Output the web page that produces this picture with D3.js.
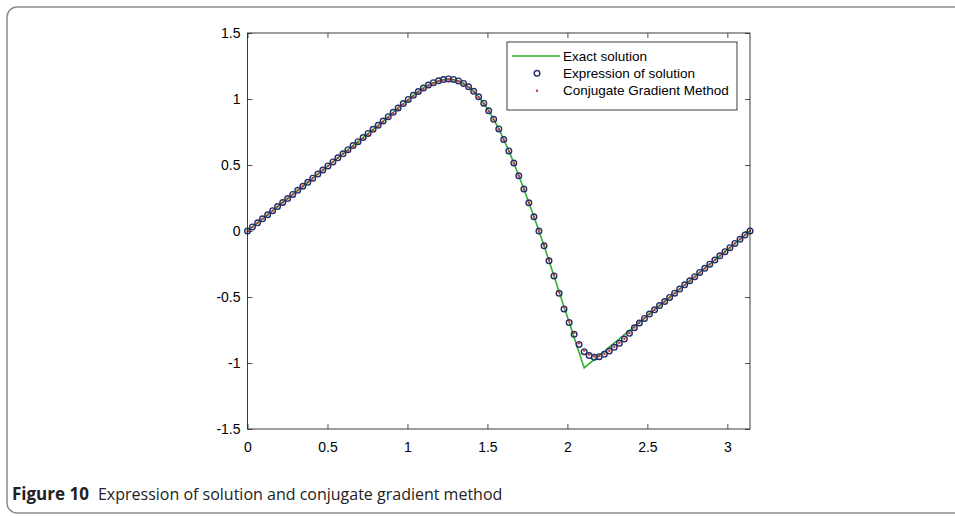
<!DOCTYPE html>
<html>
<head>
<meta charset="utf-8">
<script src="https://cdn.jsdelivr.net/npm/d3@7"></script>
<style>
  html, body { margin: 0; padding: 0; background: #fff; }
  svg { display: block; }
</style>
</head>
<body>
<svg id="chart" width="955" height="516"></svg>
<script>
// ---- data ----
const xValues = [
  0.000,0.031,0.063,0.094,0.126,0.157,0.188,0.220,0.251,0.283,
  0.314,0.346,0.377,0.408,0.440,0.471,0.503,0.534,0.565,0.597,
  0.628,0.660,0.691,0.723,0.754,0.785,0.817,0.848,0.880,0.911,
  0.942,0.974,1.005,1.037,1.068,1.100,1.131,1.162,1.194,1.225,
  1.257,1.288,1.319,1.351,1.382,1.414,1.445,1.477,1.508,1.539,
  1.571,1.602,1.634,1.665,1.696,1.728,1.759,1.791,1.822,1.854,
  1.885,1.916,1.948,1.979,2.011,2.042,2.073,2.105,2.136,2.168,
  2.199,2.231,2.262,2.293,2.325,2.356,2.388,2.419,2.450,2.482,
  2.513,2.545,2.576,2.608,2.639,2.670,2.702,2.733,2.765,2.796,
  2.827,2.859,2.890,2.922,2.953,2.985,3.016,3.047,3.079,3.110,
  3.142
];
const exactValues = [
  0.000,0.031,0.062,0.092,0.123,0.154,0.185,0.216,0.246,0.277,
  0.308,0.339,0.369,0.400,0.431,0.462,0.493,0.523,0.554,0.585,
  0.616,0.647,0.677,0.708,0.739,0.770,0.801,0.833,0.866,0.899,
  0.932,0.965,0.997,1.028,1.057,1.083,1.106,1.124,1.138,1.147,
  1.152,1.148,1.137,1.118,1.092,1.058,1.017,0.968,0.911,0.846,
  0.773,0.693,0.607,0.515,0.418,0.318,0.214,0.108,0.000,-0.112,
  -0.226,-0.340,-0.460,-0.575,-0.690,-0.806,-0.921,-1.037,-1.005,-0.974,
  -0.942,-0.911,-0.880,-0.848,-0.817,-0.785,-0.754,-0.723,-0.691,-0.660,
  -0.628,-0.597,-0.565,-0.534,-0.503,-0.471,-0.440,-0.408,-0.377,-0.346,
  -0.314,-0.283,-0.251,-0.220,-0.188,-0.157,-0.126,-0.094,-0.063,-0.031,
  0.000
];
const expressionValues = [
  0.000,0.031,0.062,0.092,0.123,0.154,0.185,0.216,0.246,0.277,
  0.308,0.339,0.369,0.400,0.431,0.462,0.493,0.523,0.554,0.585,
  0.616,0.647,0.677,0.708,0.739,0.770,0.801,0.833,0.866,0.899,
  0.932,0.965,0.997,1.028,1.057,1.083,1.106,1.124,1.138,1.147,
  1.152,1.148,1.137,1.118,1.092,1.058,1.017,0.968,0.911,0.846,
  0.773,0.693,0.607,0.515,0.418,0.318,0.214,0.108,0.000,-0.112,
  -0.226,-0.340,-0.472,-0.591,-0.694,-0.783,-0.859,-0.914,-0.944,-0.957,
  -0.952,-0.934,-0.909,-0.881,-0.851,-0.818,-0.775,-0.733,-0.697,-0.662,
  -0.629,-0.597,-0.565,-0.534,-0.503,-0.471,-0.440,-0.408,-0.377,-0.346,
  -0.314,-0.283,-0.251,-0.220,-0.188,-0.157,-0.126,-0.094,-0.063,-0.031,
  0.000
];
const cgValues = [
  0.000,0.031,0.062,0.092,0.123,0.154,0.185,0.216,0.246,0.277,
  0.308,0.339,0.369,0.400,0.431,0.462,0.493,0.523,0.554,0.585,
  0.610,0.641,0.671,0.702,0.733,0.764,0.795,0.827,0.860,0.893,
  0.926,0.959,0.991,1.022,1.051,1.078,1.101,1.120,1.134,1.143,
  1.148,1.145,1.134,1.115,1.089,1.055,1.014,0.966,0.909,0.844,
  0.771,0.691,0.605,0.514,0.418,0.318,0.214,0.108,0.002,-0.108,
  -0.220,-0.333,-0.462,-0.576,-0.680,-0.770,-0.850,-0.905,-0.937,-0.950,
  -0.948,-0.932,-0.907,-0.879,-0.849,-0.816,-0.774,-0.732,-0.696,-0.661,
  -0.629,-0.597,-0.565,-0.534,-0.503,-0.471,-0.440,-0.408,-0.377,-0.346,
  -0.314,-0.283,-0.251,-0.220,-0.188,-0.157,-0.126,-0.094,-0.063,-0.031,
  0.000
];
const xTicks = [0, 0.5, 1, 1.5, 2, 2.5, 3];
const yTicks = [-1.5, -1, -0.5, 0, 0.5, 1, 1.5];
const xDomain = [0, 3.14159];
const yDomain = [-1.5, 1.5];
const seriesNames = ["Exact solution", "Expression of solution", "Conjugate Gradient Method"];
const captionLabel = "Figure 10";
const captionText = "Expression of solution and conjugate gradient method";

// ---- drawing ----
(function () {
const svg = d3.select("#chart");
const pL = 247.5, pR = 750, pT = 33, pB = 429;
const x = d3.scaleLinear().domain(xDomain).range([pL, pR]);
const y = d3.scaleLinear().domain(yDomain).range([pB, pT]);

const axisColor = "#262626";
const tickFont = "'Liberation Sans', Arial, Helvetica, sans-serif";

// outer frame
svg.append("rect")
  .attr("x", 7).attr("y", 7).attr("width", 1000).attr("height", 506)
  .attr("rx", 10).attr("ry", 10)
  .attr("fill", "none").attr("stroke", "#8a8a8a").attr("stroke-width", 1.5);

const fmt = d => String(d);

function styleAxis(g) {
  g.select(".domain").remove();
  g.selectAll(".tick line").attr("stroke", axisColor).attr("stroke-width", 0.8);
  g.selectAll(".tick text").attr("fill", "#000").attr("font-family", tickFont).attr("font-size", 14);
}

svg.append("g").attr("transform", `translate(0,${pB})`)
  .call(d3.axisBottom(x).tickValues(xTicks).tickFormat(fmt).tickSizeInner(-5).tickSizeOuter(0).tickPadding(13))
  .call(styleAxis);
svg.append("g").attr("transform", `translate(0,${pT})`)
  .call(d3.axisTop(x).tickValues(xTicks).tickFormat("").tickSizeInner(-5).tickSizeOuter(0))
  .call(styleAxis);
svg.append("g").attr("transform", `translate(${pL},0)`)
  .call(d3.axisLeft(y).tickValues(yTicks).tickFormat(fmt).tickSizeInner(-5).tickSizeOuter(0).tickPadding(7))
  .call(styleAxis);
svg.append("g").attr("transform", `translate(${pR},0)`)
  .call(d3.axisRight(y).tickValues(yTicks).tickFormat("").tickSizeInner(-5).tickSizeOuter(0))
  .call(styleAxis);

const pts = xValues.map((xv, i) => ({x: xv, exact: exactValues[i], expr: expressionValues[i], cg: cgValues[i]}));

const green = "#2fb12f", navy = "#252d6b", red = "#c43a2a";

svg.append("path").datum(pts)
  .attr("fill", "none").attr("stroke", green).attr("stroke-width", 1.6)
  .attr("d", d3.line().x(d => x(d.x)).y(d => y(d.exact)));

svg.append("g").selectAll("circle").data(pts).join("circle")
  .attr("cx", d => x(d.x)).attr("cy", d => y(d.expr)).attr("r", 2.8)
  .attr("fill", "none").attr("stroke", navy).attr("stroke-width", 1.4);

svg.append("g").selectAll("circle").data(pts).join("circle")
  .attr("cx", d => x(d.x)).attr("cy", d => y(d.cg)).attr("r", 1.2)
  .attr("fill", red);

// box
svg.append("rect")
  .attr("x", pL).attr("y", pT).attr("width", pR - pL).attr("height", pB - pT)
  .attr("fill", "none").attr("stroke", axisColor).attr("stroke-width", 0.9);

// legend
const lg = svg.append("g");
lg.append("rect").attr("x", 507).attr("y", 42).attr("width", 230).attr("height", 68)
  .attr("fill", "#fff").attr("stroke", axisColor).attr("stroke-width", 0.9);
const rowY = [56, 73.3, 90.7];
lg.append("line").attr("x1", 512).attr("x2", 560).attr("y1", rowY[0]).attr("y2", rowY[0])
  .attr("stroke", green).attr("stroke-width", 1.6);
lg.append("circle").attr("cx", 537).attr("cy", rowY[1]).attr("r", 2.8)
  .attr("fill", "none").attr("stroke", navy).attr("stroke-width", 1.4);
lg.append("circle").attr("cx", 537).attr("cy", rowY[2]).attr("r", 1.2).attr("fill", red);
lg.selectAll("text").data(seriesNames).join("text")
  .attr("x", 563).attr("y", (d, i) => rowY[i]).attr("dy", "0.35em")
  .attr("font-family", tickFont).attr("font-size", 13.5).attr("fill", "#000")
  .text(d => d);

// caption
const cap = svg.append("text").attr("x", 12).attr("y", 500)
  .attr("font-family", "'Open Sans', 'Noto Sans', sans-serif").attr("font-size", 16).attr("fill", "#222");
cap.append("tspan").attr("font-weight", "bold").attr("font-size", 17).text(captionLabel);
cap.append("tspan").attr("dx", 9).text(captionText);
})();
</script>
</body>
</html>
